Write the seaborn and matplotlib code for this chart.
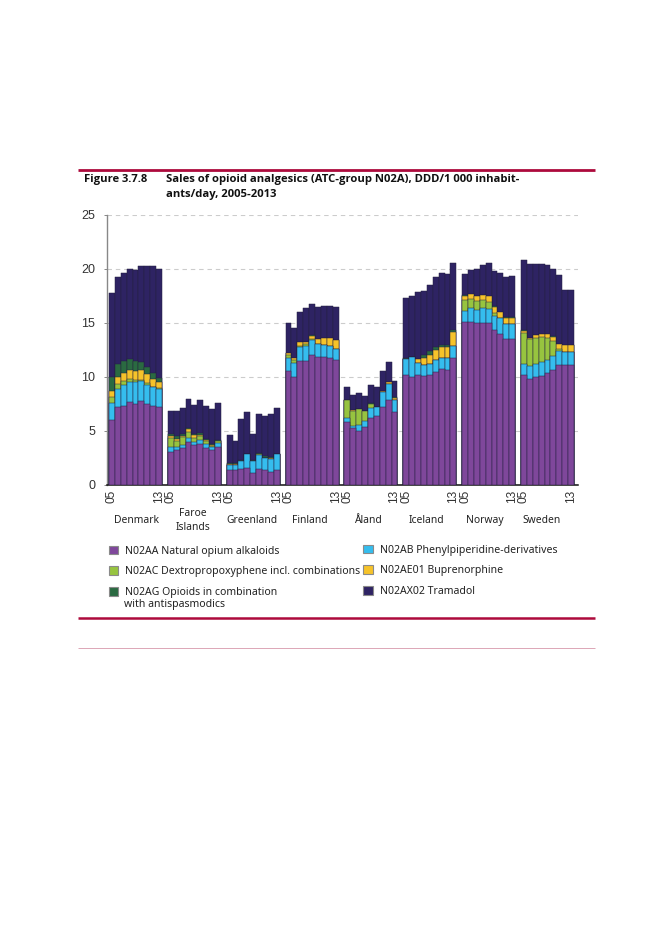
import matplotlib
matplotlib.use("Agg")
import matplotlib.pyplot as plt
from matplotlib.lines import Line2D
from matplotlib.patches import Patch
import pandas as pd
import seaborn as sns

COUNTRIES = ["Denmark", "Faroe\nIslands", "Greenland", "Finland", "Åland", "Iceland", "Norway", "Sweden"]
YEARS = ["05", "06", "07", "08", "09", "10", "11", "12", "13"]

# Cumulative top of each stacked segment, DDD/1 000 inhabitants/day, per country
N02AA = [6.0, 7.2, 7.3, 7.6, 7.5, 7.7, 7.5, 7.3, 7.2,
         3.0, 3.2, 3.35, 3.9, 3.65, 3.75, 3.35, 3.15, 3.5,
         1.3, 1.3, 1.4, 1.57, 1.1, 1.48, 1.3, 1.2, 1.3,
         10.55, 10.0, 11.4, 11.4, 11.95, 11.76, 11.76, 11.67, 11.5,
         5.83, 5.19, 5.0, 5.3, 6.2, 6.33, 7.22, 7.87, 6.67,
         10.1, 9.94, 10.18, 10.03, 10.18, 10.46, 10.65, 10.56, 11.67,
         15.09, 15.09, 15.0, 15.0, 15.0, 14.35, 13.98, 13.43, 13.43,
         10.18, 9.81, 10.0, 10.09, 10.28, 10.56, 11.02, 11.02, 11.02]
N02AB = [7.55, 8.85, 9.2, 9.45, 9.45, 9.55, 9.25, 9.0, 8.85,
         3.5, 3.45, 3.7, 4.3, 3.9, 4.1, 3.75, 3.5, 3.85,
         1.85, 1.85, 2.16, 2.78, 2.16, 2.75, 2.44, 2.38, 2.78,
         11.73, 11.27, 12.75, 12.84, 13.36, 13.0, 12.93, 12.84, 12.56,
         6.2, 5.46, 5.55, 5.86, 7.04, 7.16, 8.6, 9.26, 7.84,
         11.64, 11.8, 11.27, 11.08, 11.2, 11.57, 11.73, 11.67, 12.87,
         16.1, 16.3, 16.2, 16.36, 16.27, 15.6, 15.43, 14.88, 14.88,
         11.2, 10.93, 11.17, 11.36, 11.57, 11.91, 12.38, 12.28, 12.28]
N02AC = [8.1, 9.3, 9.55, 9.8, 9.65, 9.7, 9.4, 9.05, 8.9,
         4.3, 4.0, 4.4, 4.9, 4.3, 4.45, 4.0, 3.6, 4.0,
         1.85, 1.85, 2.16, 2.78, 2.16, 2.78, 2.44, 2.38, 2.78,
         12.0, 11.57, 12.84, 13.0, 13.43, 13.05, 12.96, 12.87, 12.56,
         7.84, 6.85, 7.0, 6.76, 7.5, 7.16, 8.6, 9.26, 7.84,
         11.64, 11.8, 11.27, 11.08, 11.2, 11.57, 11.73, 11.67, 12.87,
         17.1, 17.2, 17.0, 17.04, 16.9, 15.9, 15.43, 14.88, 14.88,
         14.07, 13.43, 13.6, 13.7, 13.6, 13.3, 12.53, 12.28, 12.28]
N02AE01 = [8.7, 10.0, 10.3, 10.6, 10.5, 10.6, 10.2, 9.75, 9.5,
           4.45, 4.25, 4.45, 5.1, 4.55, 4.6, 4.15, 3.7, 4.05,
           1.9, 1.9, 2.2, 2.8, 2.2, 2.85, 2.5, 2.45, 2.8,
           12.13, 11.67, 13.15, 13.2, 13.77, 13.46, 13.55, 13.55, 13.36,
           7.84, 6.87, 7.0, 6.78, 7.5, 7.2, 8.65, 9.45, 8.05,
           11.64, 11.8, 11.6, 11.73, 12.0, 12.44, 12.69, 12.72, 14.1,
           17.5, 17.62, 17.44, 17.56, 17.47, 16.48, 15.99, 15.46, 15.46,
           14.2, 13.58, 13.86, 13.95, 13.95, 13.7, 13.0, 12.9, 12.9]
N02AG = [10.0, 11.2, 11.4, 11.6, 11.4, 11.3, 10.9, 10.35, 9.9,
         4.65, 4.5, 4.65, 5.2, 4.65, 4.75, 4.2, 3.75, 4.1,
         2.0, 2.0, 2.28, 2.85, 2.28, 2.95, 2.6, 2.55, 2.85,
         12.15, 11.7, 13.18, 13.23, 13.8, 13.48, 13.57, 13.57, 13.38,
         7.86, 6.89, 7.02, 6.8, 7.52, 7.22, 8.67, 9.47, 8.07,
         11.67, 11.85, 11.65, 11.98, 12.35, 12.75, 12.9, 12.93, 14.3,
         17.52, 17.64, 17.46, 17.58, 17.49, 16.5, 16.0, 15.47, 15.47,
         14.32, 13.6, 13.88, 13.97, 13.97, 13.72, 13.02, 12.92, 12.92]
N02AX02 = [17.7, 19.2, 19.6, 20.0, 19.9, 20.2, 20.2, 20.2, 20.0,
           6.8, 6.8, 7.1, 7.95, 7.4, 7.8, 7.3, 6.95, 7.55,
           4.55, 4.0, 6.1, 6.67, 4.63, 6.57, 6.3, 6.57, 7.04,
           15.0, 14.45, 16.0, 16.3, 16.67, 16.4, 16.57, 16.57, 16.4,
           9.07, 8.27, 8.49, 8.15, 9.17, 9.07, 10.55, 11.3, 9.54,
           17.25, 17.47, 17.78, 17.96, 18.5, 19.2, 19.57, 19.47, 20.5,
           19.47, 19.85, 19.94, 20.37, 20.52, 19.78, 19.54, 19.23, 19.29,
           20.77, 20.4, 20.46, 20.46, 20.28, 19.97, 19.38, 18.05, 18.05]

LEG_AA = "N02AA Natural opium alkaloids"
LEG_AB = "N02AB Phenylpiperidine-derivatives"
LEG_AC = "N02AC Dextropropoxyphene incl. combinations"
LEG_AE = "N02AE01 Buprenorphine"
LEG_AG = "N02AG Opioids in combination"
LEG_AG2 = "with antispasmodics"
LEG_AX = "N02AX02 Tramadol"

SERIES = {LEG_AX: N02AX02, LEG_AG: N02AG, LEG_AE: N02AE01, LEG_AC: N02AC, LEG_AB: N02AB, LEG_AA: N02AA}
COLORS = {LEG_AX: "#2e2363", LEG_AG: "#2a6a41", LEG_AE: "#f6c32a",
          LEG_AC: "#97c43f", LEG_AB: "#35bdee", LEG_AA: "#7f479b"}

W, H = 661, 933
sns.set_style("white")
plt.rcParams["font.family"] = ["Liberation Sans", "DejaVu Sans"]
TEXT_FONT = ["Noto Sans", "DejaVu Sans"]
TITLE_FONT = ["Open Sans", "DejaVu Sans"]

slots = []
for ci, c in enumerate(COUNTRIES):
    for y in YEARS:
        slots.append(f"{c} {y}")
    if ci < len(COUNTRIES) - 1:
        slots.append(f"gap {ci}")
rows = [f"{c} {y}" for c in COUNTRIES for y in YEARS]

fig = plt.figure(figsize=(W / 100, H / 100), dpi=100, facecolor="white")
L, R, T, B = 106.5, 578, 214.5, 484.5
ax = fig.add_axes([L / W, 1 - B / H, (R - L) / W, (B - T) / H])

for name, tops in SERIES.items():
    df = pd.DataFrame({"slot": rows, "value": tops})
    sns.barplot(data=df, x="slot", y="value", order=slots, color=COLORS[name], saturation=1,
                width=1.0, errorbar=None, edgecolor="#24203f", linewidth=0.35, ax=ax, zorder=3)

ax.set_xlim(-0.925, 79.18)
ax.set_ylim(0, 25)
ax.set_xlabel("")
ax.set_ylabel("")
ax.set_yticks([0, 5, 10, 15, 20, 25])
ax.set_xticks([i * 10 for i in range(8)] + [i * 10 + 8 for i in range(8)])
ax.set_xticklabels(["05"] * 8 + ["13"] * 8, rotation=90)
ax.tick_params(axis="x", length=0, pad=3.5, labelsize=8.6, labelcolor="#333333")
ax.tick_params(axis="y", length=2.5, width=0.7, color="#888888", pad=5.5, labelsize=9, labelcolor="#333333", left=True)
ax.yaxis.grid(True, linestyle=(0, (4, 3.5)), color="#cccccc", linewidth=0.8, zorder=0)
ax.xaxis.grid(False)
ax.set_axisbelow(True)
for s in ("top", "right"):
    ax.spines[s].set_visible(False)
ax.spines["left"].set_color("#888888")
ax.spines["left"].set_linewidth(1.0)
ax.spines["bottom"].set_color("#111111")
ax.spines["bottom"].set_linewidth(1.1)


def px_text(x, y, s, **kw):
    kw.setdefault("family", TEXT_FONT)
    kw.setdefault("color", "#222222")
    return fig.text(x / W, 1 - y / H, s, va="center", **kw)


# Country names
for x, name in zip([136.7, 193, 251.7, 310, 368, 426, 485, 542], COUNTRIES):
    px_text(x, 520.7, name, ha="center", fontsize=7.4, linespacing=1.3)

# Title
TK = dict(fontsize=8.1, fontweight="bold", color="#111111", family=TITLE_FONT)
px_text(84, 179.5, "Figure 3.7.8", **TK)
px_text(165.5, 179.5, "Sales of opioid analgesics (ATC-group N02A), DDD/1 000 inhabit-", **TK)
px_text(165.5, 194, "ants/day, 2005-2013", **TK)

# Rules
RED = "#ad0a3c"
for y0, x1, lw, col in [(170, 595, 2.0, RED), (617.5, 595, 1.8, RED), (647.5, 595, 0.7, "#dca6b6")]:
    fig.add_artist(Line2D([78 / W, x1 / W], [1 - y0 / H] * 2, color=col, lw=lw, solid_capstyle="butt"))


# Legends
def legend(names, x, y):
    handles = [Patch(facecolor=COLORS[n], edgecolor="#8a8a8a", linewidth=0.8) for n in names]
    fs = 7.55
    return fig.legend(handles, names, loc="upper left", bbox_to_anchor=(x / W, 1 - y / H),
                      frameon=False, handlelength=0.92, handleheight=0.92,
                      handletextpad=0.66, labelspacing=0.92, borderpad=0, borderaxespad=0,
                      prop={"family": TEXT_FONT, "size": fs}, labelcolor="#222222")


legend([LEG_AA, LEG_AC, LEG_AG], 108.5, 545.5)
legend([LEG_AB, LEG_AE, LEG_AX], 363, 544.5)
px_text(124.3, 605, LEG_AG2, fontsize=7.55)

fig.savefig("out.png", dpi=100, facecolor="white")
